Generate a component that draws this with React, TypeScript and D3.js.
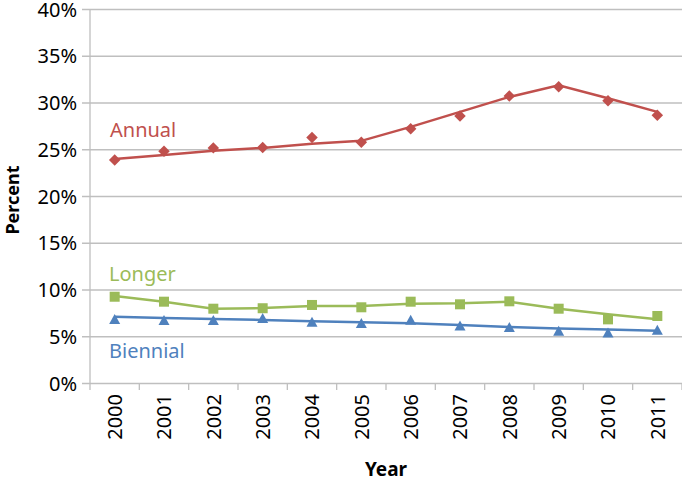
import React from "react";
import * as d3 from "d3";

const years = ["2000", "2001", "2002", "2003", "2004", "2005", "2006", "2007", "2008", "2009", "2010", "2011"];
const yTicks = [0, 5, 10, 15, 20, 25, 30, 35, 40];

const annualPoints = [23.9, 24.85, 25.2, 25.25, 26.3, 25.8, 27.25, 28.6, 30.75, 31.75, 30.25, 28.7];
const annualLine = [24.0, 24.45, 24.9, 25.2, 25.65, 25.95, 27.45, 29.05, 30.65, 31.9, 30.5, 29.05];

const longerPoints = [9.28, 8.75, 8.0, 8.05, 8.4, 8.15, 8.75, 8.47, 8.79, 8.0, 6.86, 7.22];
const longerLine = [9.35, 8.75, 8.0, 8.07, 8.3, 8.3, 8.52, 8.57, 8.75, 8.0, 7.4, 6.86];

const biennialPoints = [6.86, 6.76, 6.76, 6.97, 6.58, 6.44, 6.79, 6.18, 6.01, 5.61, 5.43, 5.72];
const biennialLine = [7.15, 7.0, 6.9, 6.8, 6.65, 6.55, 6.45, 6.25, 6.05, 5.88, 5.78, 5.65];

const W = 682;
const H = 481;
const FONT = "'Noto Sans', 'Open Sans', sans-serif";
const GRID = "#BFBFBF";
const RED = "#C0504D";
const GREEN = "#9BBB59";
const BLUE = "#4F81BD";

export default function App() {
  const x = d3.scaleBand<string>().domain(years).range([90, 682]).padding(0);
  const y = d3.scaleLinear().domain([0, 40]).range([383.5, 9.5]);
  const cx = (yr: string) => (x(yr) as number) + x.bandwidth() / 2;

  const lineGen = (vals: number[]) =>
    d3
      .line<number>()
      .x((_, i) => cx(years[i]))
      .y((v) => y(v))(vals) as string;

  const diamond = d3.symbol().type(d3.symbolDiamond2).size(84)() as string;

  const tri = (px: number, py: number) => {
    const s = 11;
    const h = 9.5;
    return `M${px},${py - h / 2 - 0.5}L${px + s / 2},${py + h / 2}L${px - s / 2},${py + h / 2}Z`;
  };

  const x0 = 90;
  const x1 = 682;

  return (
    <svg
      width={W}
      height={H}
      style={{ position: "absolute", left: 0, top: 0, background: "#fff" }}
      fontFamily={FONT}
    >
      {yTicks.map((t) => (
        <g key={t}>
          <line x1={82} x2={x1} y1={y(t)} y2={y(t)} stroke={GRID} strokeWidth={1.3} />
          <text x={77} y={y(t)} dy="0.36em" textAnchor="end" fontSize={20} fill="#000">
            {t}%
          </text>
        </g>
      ))}
      <line x1={x0} x2={x0} y1={y(40)} y2={y(0) + 6.5} stroke={GRID} strokeWidth={1.3} />
      {years.map((yr) => (
        <line
          key={"t" + yr}
          x1={(x(yr) as number) + x.bandwidth()}
          x2={(x(yr) as number) + x.bandwidth()}
          y1={y(0)}
          y2={y(0) + 6.5}
          stroke={GRID}
          strokeWidth={1.3}
        />
      ))}
      {years.map((yr) => (
        <text
          key={"l" + yr}
          transform={`translate(${cx(yr)},${394}) rotate(-90)`}
          textAnchor="end"
          dy="0.36em"
          fontSize={20}
          fill="#000"
        >
          {yr}
        </text>
      ))}
      <text
        transform={`translate(19,200) rotate(-90)`}
        textAnchor="middle"
        fontSize={18}
        fontWeight="bold"
        fill="#000"
      >
        Percent
      </text>
      <text x={386} y={476} textAnchor="middle" fontSize={19} fontWeight="bold" fill="#000">
        Year
      </text>

      <path d={lineGen(annualLine)} fill="none" stroke={RED} strokeWidth={2.5} />
      <path d={lineGen(longerLine)} fill="none" stroke={GREEN} strokeWidth={2.5} />
      <path d={lineGen(biennialLine)} fill="none" stroke={BLUE} strokeWidth={2.5} />

      {annualPoints.map((v, i) => (
        <path key={"a" + i} d={diamond} transform={`translate(${cx(years[i])},${y(v)})`} fill={RED} />
      ))}
      {longerPoints.map((v, i) => (
        <rect key={"g" + i} x={cx(years[i]) - 5} y={y(v) - 5} width={10} height={10} fill={GREEN} />
      ))}
      {biennialPoints.map((v, i) => (
        <path key={"b" + i} d={tri(cx(years[i]), y(v))} fill={BLUE} />
      ))}

      <text x={110} y={137} fontSize={20} fill={RED}>
        Annual
      </text>
      <text x={109} y={281} fontSize={20} fill={GREEN}>
        Longer
      </text>
      <text x={109} y={358} fontSize={20} fill={BLUE}>
        Biennial
      </text>
    </svg>
  );
}
